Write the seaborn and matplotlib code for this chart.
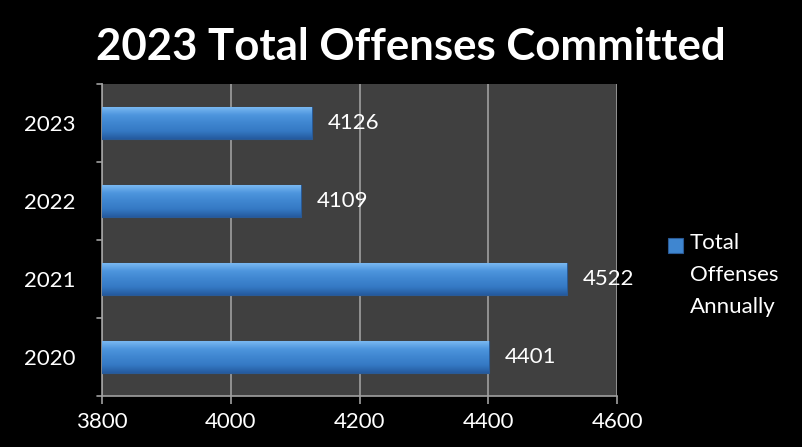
import matplotlib
matplotlib.use("Agg")
import matplotlib.pyplot as plt
import seaborn as sns
import numpy as np
import pandas as pd
from matplotlib.patches import Rectangle
from matplotlib.colors import LinearSegmentedColormap

years = ["2023", "2022", "2021", "2020"]
offenses = [4126, 4109, 4522, 4401]
xticks = [3800, 4000, 4200, 4400, 4600]
title = "2023 Total Offenses Committed"
legend_label = "Total\nOffenses\nAnnually"

sns.set_theme(style="dark")
plt.rcParams['font.family'] = ['Lato', 'DejaVu Sans']

XMIN, XMAX = 3800, 4600
df = pd.DataFrame({"year": years, "offenses": offenses})

fig = plt.figure(figsize=(8.02, 4.47), dpi=100, facecolor="black")
ax = fig.add_axes([0.1275, 0.115, 0.642, 0.697])
ax.set_facecolor("#404040")

sns.barplot(data=df, x="offenses", y="year", order=years, orient="h",
            color="#3f86d0", width=0.41, ax=ax, saturation=1, zorder=3)

FS = 16
ax.set_xlim(XMIN, XMAX)
ax.set_xticks(xticks)
ax.set_xticklabels([str(t) for t in xticks], color="white", fontsize=FS)
ax.tick_params(axis="x", length=6, color="#a0a0a0", width=1.2, pad=6, direction="out", bottom=True)
ax.grid(axis="x", color="#a0a0a0", linewidth=1.2, zorder=0)
ax.grid(axis="y", visible=False)
ax.set_axisbelow(True)

ax.set_yticks(range(len(years)))
ax.set_yticklabels(years, color="white", fontsize=FS)
ax.tick_params(axis="y", length=0, pad=19)
for b in np.arange(-0.5, len(years), 1.0):
    ax.plot([-0.011, 0], [b, b], transform=ax.get_yaxis_transform(),
            color="#a0a0a0", lw=1.2, clip_on=False)
ax.set_xlabel("")
ax.set_ylabel("")
for s in ["top", "right"]:
    ax.spines[s].set_visible(False)
for s in ["left", "bottom"]:
    ax.spines[s].set_visible(True)
    ax.spines[s].set_color("#a0a0a0")
    ax.spines[s].set_linewidth(1.2)

cmap = LinearSegmentedColormap.from_list("bar", ["#7ab9f2", "#4d95dd", "#3f86d0", "#3579c4", "#255a9e"])
grad = np.linspace(0, 1, 256).reshape(-1, 1)
for p in ax.patches:
    x0, y0 = p.get_x(), p.get_y()
    w, h = p.get_width(), p.get_height()
    xs = max(x0, XMIN)
    ax.imshow(grad, cmap=cmap, aspect="auto",
              extent=[xs, x0 + w, y0 + h, y0], zorder=4, origin="upper")
    p.set_edgecolor("#2a5a95")
    p.set_linewidth(0.8)
ax.set_xlim(XMIN, XMAX)
ax.set_ylim(len(years) - 0.5, -0.5)

for i, v in enumerate(offenses):
    ax.text(v + 25, i, str(v), color="white", fontsize=FS, va="center", ha="left", zorder=5)

fig.text(0.512, 0.895, title, color="white", fontsize=31.5, fontweight="bold",
         ha="center", va="center")

# legend
fig.patches.append(Rectangle((0.833, 0.434), 0.018, 0.033, transform=fig.transFigure,
                             facecolor="#3f86d0", edgecolor="#2a5a95", lw=0.8))
fig.text(0.86, 0.478, legend_label, color="white", fontsize=FS,
         ha="left", va="top", linespacing=1.75)

fig.savefig("out.png", dpi=100, facecolor="black")
